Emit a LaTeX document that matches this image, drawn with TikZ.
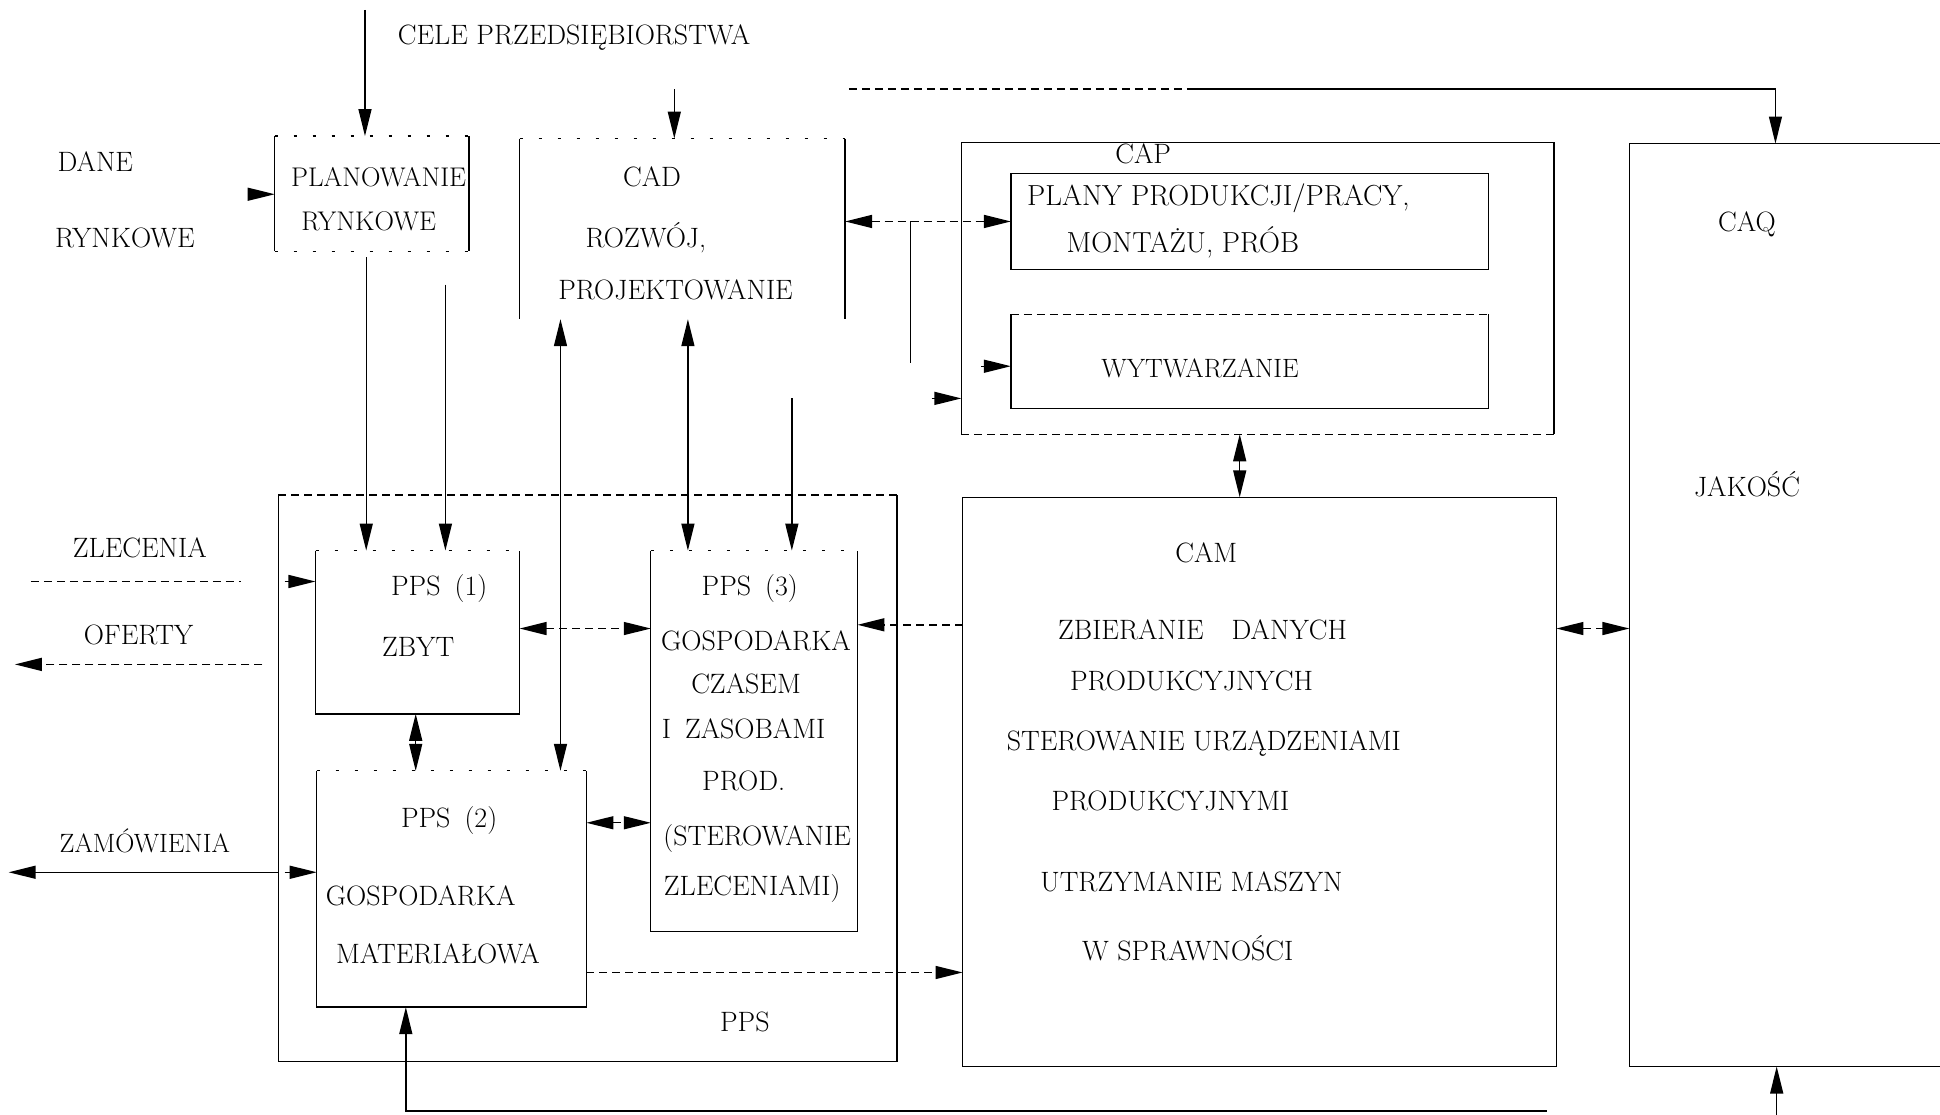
\documentclass[tikz,border=0pt]{standalone}
\usetikzlibrary{arrows.meta,fit,calc}
\begin{document}
\begin{tikzpicture}[x=1.2372pt,y=-1.2372pt,
  ln/.style={line width=1.4pt},
  dl/.style={line width=1.4pt, dash pattern=on 8pt off 5pt},
  dt/.style={line width=1.2pt, dash pattern=on 3pt off 16pt},
  hd/.style={-{Triangle[length=27pt,width=13pt]}},
  hh/.style={{Triangle[length=27pt,width=13pt]}-{Triangle[length=27pt,width=13pt]}},
  area/.style={inner sep=0pt, outer sep=0pt},
  txt/.style={font=\fontsize{28}{33}\selectfont, inner sep=0pt},
  fs/.style={font=\fontsize{#1}{33}\selectfont},
]
\useasboundingbox (0,0) rectangle (1568,901);

% ---------- box areas ----------
\node[area, fit={(222,110) (379,203)}] (plan) {};
\node[area, fit={(420,112) (683,258)}] (cad) {};
\node[area, fit={(777,115) (1256,351)}] (cap) {};
\node[area, fit={(817,140) (1203,218)}] (plany) {};
\node[area, fit={(817,254) (1203,330)}] (wytw) {};
\node[area, fit={(1317,116) (1568,862)}] (caq) {};
\node[area, fit={(778,402) (1258,862)}] (cam) {};
\node[area, fit={(225,400) (725,858)}] (pps) {};
\node[area, fit={(255,445) (420,577)}] (pps1) {};
\node[area, fit={(526,445) (693,753)}] (pps3) {};
\node[area, fit={(256,623) (474,814)}] (pps2) {};

% ---------- box outlines ----------
\draw[ln] (plan.north west) -- (plan.south west);
\draw[ln] (plan.north east) -- (plan.south east);
\draw[dt] (plan.north west) -- (plan.north east);
\draw[dt] (plan.south west) -- (plan.south east);

\draw[ln] (cad.north west) -- (cad.south west);
\draw[ln] (cad.north east) -- (cad.south east);
\draw[dt] (cad.north west) -- (cad.north east);

\draw[ln] (cap.south west) -- (cap.north west) -- (cap.north east) -- (cap.south east);
\draw[dl] (cap.south west) -- (cap.south east);

\draw[ln] (plany.north west) rectangle (plany.south east);

\draw[ln] (wytw.north west) -- (wytw.south west) -- (wytw.south east) -- (wytw.north east);
\draw[dl] (wytw.north west) -- (wytw.north east);

\draw[ln] (caq.north east) -- (caq.north west) -- (caq.south west) -- (caq.south east);

\draw[ln] (cam.north west) rectangle (cam.south east);

\draw[ln] (pps.north west) -- (pps.south west) -- (pps.south east) -- (pps.north east);
\draw[dl] (pps.north west) -- (pps.north east);

\draw[ln] (pps1.north west) -- (pps1.south west) -- (pps1.south east) -- (pps1.north east);
\draw[dt] (pps1.north west) -- (pps1.north east);

\draw[ln] (pps3.north west) -- (pps3.south west) -- (pps3.south east) -- (pps3.north east);
\draw[dt] (pps3.north west) -- (pps3.north east);

\draw[ln] (pps2.north west) -- (pps2.south west) -- (pps2.south east) -- (pps2.north east);
\draw[dt] (pps2.north west) -- (pps2.north east);

% ---------- texts ----------
\node[txt] (tcele) at (464,30) {CELE PRZEDSIĘBIORSTWA};
\node[txt] (tdane) at (77,131) {DANE};
\node[txt] (trynk) at (101,192) {RYNKOWE};
\node[txt, fs=27] (tplan1) at (306,143) {PLANOWANIE};
\node[txt, fs=27] (tplan2) at (298,179) {RYNKOWE};
\node[txt] (tcad1) at (527,143) {CAD};
\node[txt] (tcad2) at (522,192) {ROZWÓJ,};
\node[txt] (tcad3) at (546,234) {PROJEKTOWANIE};
\node[txt] (tcap) at (924,124) {CAP};
\node[txt, fs=29, anchor=west] (tpl1) at (830,160) {PLANY PRODUKCJI/PRACY,};
\node[txt, fs=29, anchor=west] (tpl2) at (862,196) {MONTAŻU, PRÓB};
\node[txt, fs=26.5] (twyt) at (970,298) {WYTWARZANIE};
\node[txt] (tcaq) at (1412,181) {CAQ};
\node[txt] (tjak) at (1412,391) {JAKOŚĆ};
\node[txt] (tcam) at (975,447) {CAM};
\node[txt] (tcam1) at (972,509) {ZBIERANIE\quad DANYCH};
\node[txt] (tcam2) at (963,550) {PRODUKCYJNYCH};
\node[txt] (tcam3) at (973,601) {STEROWANIE URZĄDZENIAMI};
\node[txt] (tcam4) at (946,647) {PRODUKCYJNYMI};
\node[txt] (tcam5) at (963,713) {UTRZYMANIE MASZYN};
\node[txt] (tcam6) at (960,766) {W SPRAWNOŚCI};
\node[txt] (tzle) at (113,443) {ZLECENIA};
\node[txt] (tofe) at (112,513) {OFERTY};
\node[txt, fs=26.5] (tzam) at (117,680) {ZAMÓWIENIA};
\node[txt] (tp1a) at (355,476) {PPS\enspace(1)};
\node[txt] (tp1b) at (338,523) {ZBYT};
\node[txt] (tp3a) at (606,476) {PPS\enspace(3)};
\node[txt] (tp3b) at (611,518) {GOSPODARKA};
\node[txt] (tp3c) at (603,553) {CZASEM};
\node[txt] (tp3d) at (601,589) {I\enspace ZASOBAMI};
\node[txt] (tp3e) at (601,631) {PROD.};
\node[txt] (tp3f) at (612,678) {(STEROWANIE};
\node[txt] (tp3g) at (608,718) {ZLECENIAMI)};
\node[txt] (tp2a) at (363,663) {PPS\enspace(2)};
\node[txt] (tp2b) at (340,724) {GOSPODARKA};
\node[txt] (tp2c) at (354,771) {MATERIAŁOWA};
\node[txt] (tpps) at (602,826) {PPS};

% ---------- connectors ----------
\coordinate (cele) at (295,8);
\draw[ln,hd] (cele) -- (cele |- plan.north);

\coordinate (cadin) at (545,72);
\draw[ln,hd] (cadin) -- (cadin |- cad.north);

\coordinate (q0) at (686,72);
\coordinate (q1) at (960,72);
\coordinate (q2) at (1435,72);
\draw[dl] (q0) -- (q1);
\draw[ln,hd] (q1) -- (q2) -- (q2 |- caq.north);

\coordinate (dn) at (201,157);
\draw[ln,hd] (dn) -- (dn -| plan.west);

\draw[dl,hh] (cad.east |- plany.west) -- (plany.west);
\coordinate (v1) at (736,179);
\coordinate (v2) at (736,293);
\draw[ln] (v1) -- (v2);
\coordinate (w1) at (793,296);
\draw[ln,hd] (w1) -- (w1 -| wytw.west);
\coordinate (c1) at (753,322);
\draw[ln,hd] (c1) -- (c1 -| cap.west);

\coordinate (k1) at (1002,351);
\draw[ln,hh] (k1) -- (k1 |- cam.north);

\coordinate (a1) at (296,208);
\draw[ln,hd] (a1) -- (a1 |- pps1.north);
\coordinate (a2) at (360,230);
\draw[ln,hd] (a2) -- (a2 |- pps1.north);

\coordinate (b1) at (453,258);
\draw[ln,hh] (b1) -- (b1 |- pps2.north);
\coordinate (b2) at (556,258);
\draw[ln,hh] (b2) -- (b2 |- pps3.north);
\coordinate (b3) at (640,322);
\draw[ln,hd] (b3) -- (b3 |- pps3.north);

\coordinate (e1) at (420,508);
\draw[dl,hh] (e1) -- (e1 -| pps3.west);
\coordinate (f1) at (336,577);
\draw[ln,hh] (f1) -- (f1 |- pps2.north);
\coordinate (g1) at (474,665);
\draw[dl,hh] (g1) -- (g1 -| pps3.west);
\coordinate (h1) at (778,505);
\draw[dl,hd] (h1) -- (h1 -| pps3.east);
\coordinate (i1) at (474,786);
\draw[dl,hd] (i1) -- (i1 -| cam.west);
\coordinate (j1) at (1258,508);
\draw[dl,hh] (j1) -- (j1 -| caq.west);

\coordinate (z1) at (25,470);
\coordinate (z2) at (195,470);
\draw[dl] (z1) -- (z2);
\coordinate (z3) at (230,470);
\draw[ln,hd] (z3) -- (z3 -| pps1.west);

\coordinate (o1) at (212,537);
\coordinate (o2) at (12,537);
\draw[dl,hd] (o1) -- (o2);

\coordinate (zm1) at (225,705);
\coordinate (zm2) at (7,705);
\draw[ln,hd] (zm1) -- (zm2);
\coordinate (zm3) at (230,705);
\draw[ln,hd] (zm3) -- (zm3 -| pps2.west);

\coordinate (m1) at (1250,898);
\coordinate (m2) at (328,898);
\draw[ln,hd] (m1) -- (m2) -- (m2 |- pps2.south);

\coordinate (n1) at (1436,901);
\draw[ln,hd] (n1) -- (n1 |- caq.south);
\end{tikzpicture}
\end{document}
